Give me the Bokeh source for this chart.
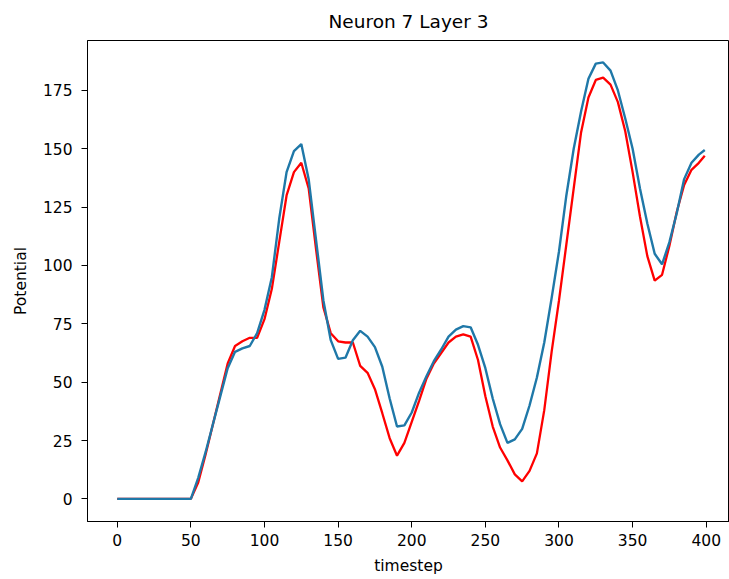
from bokeh.plotting import figure
from bokeh.models import Range1d, FixedTicker
from bokeh.embed import file_html
from bokeh.resources import INLINE

timestep = list(range(0, 400, 5)) + [399]

blue_potential = [
    0, 0, 0, 0, 0, 0, 0, 0, 0, 0,            # 0-45
    0, 9, 20, 32, 44, 56, 63, 64.5, 65.5, 71,  # 50-95
    81, 95, 120, 140, 149, 152, 137, 111, 85, 68,  # 100-145
    60, 60.5, 68, 72, 69.5, 65, 56.6, 43, 31, 31.5,  # 150-195
    37, 45.5, 52.5, 59, 64, 69.5, 72.5, 74, 73.5, 66,  # 200-245
    56, 43, 32, 24, 25.5, 30, 40, 52, 67, 86,  # 250-295
    106, 130, 150, 166, 180, 186.5, 187, 183.5, 175, 163,  # 300-345
    150, 133, 118, 105, 100.5, 110, 122.5, 137, 144, 147.5,  # 350-395
    149.5,  # 399
]

red_potential = [
    0, 0, 0, 0, 0, 0, 0, 0, 0, 0,
    0, 7, 19, 32, 45, 58, 65.5, 67.5, 69, 69,
    77, 90, 110, 130, 140, 144, 133, 107, 82, 71,
    67.5, 67, 67, 57, 54, 47, 36.7, 26, 18.5, 24,
    33, 42, 51.5, 58, 62.5, 67, 69.5, 70.5, 69.5, 59.5,
    44, 31, 22, 16.5, 10.5, 7.5, 12, 19.5, 38, 63,
    85, 109, 133, 157, 172, 179.5, 180.5, 177.5, 170, 157.5,
    140, 121, 104, 93.5, 96, 108.5, 123, 134.5, 141, 144,
    147,
]

x_ticks = [0, 50, 100, 150, 200, 250, 300, 350, 400]
y_ticks = [0, 25, 50, 75, 100, 125, 150, 175]

FONT = "DejaVu Sans"

p = figure(width=729, height=579, output_backend="svg", toolbar_location=None,
           title="Neuron 7 Layer 3",
           x_range=Range1d(-20.2, 415.8), y_range=Range1d(-9.7, 196.4),
           min_border_left=87, min_border_right=0, min_border_top=0,
           min_border_bottom=58)

p.title.text_font = FONT
p.title.text_font_size = "18.5px"
p.title.text_font_style = "normal"
p.title.align = "center"
p.title.text_color = "#000000"
p.title.standoff = 17

p.line(timestep, red_potential, line_color="#ff0000", line_width=2.3)
p.line(timestep, blue_potential, line_color="#1f78a8", line_width=2.4)

p.xgrid.visible = False
p.ygrid.visible = False
p.outline_line_color = "#000000"
p.outline_line_width = 1

for ax, ticks, label in ((p.xaxis[0], x_ticks, "timestep"), (p.yaxis[0], y_ticks, "Potential")):
    ax.ticker = FixedTicker(ticks=ticks)
    ax.axis_label = label
    ax.axis_label_text_font = FONT
    ax.axis_label_text_font_size = "15.5px"
    ax.axis_label_text_font_style = "normal"
    ax.axis_label_text_color = "#000000"
    ax.major_label_text_font = FONT
    ax.major_label_text_font_size = "15.5px"
    ax.major_label_text_color = "#000000"
    ax.minor_tick_line_color = None
    ax.major_tick_out = 6
    ax.major_tick_in = 0
    ax.major_tick_line_color = "#000000"
    ax.axis_line_color = "#000000"

p.xaxis[0].major_label_standoff = 6
p.yaxis[0].major_label_standoff = 9
p.xaxis[0].axis_label_standoff = 8
p.yaxis[0].axis_label_standoff = 10

open("out.html", "w").write(file_html(p, INLINE))
